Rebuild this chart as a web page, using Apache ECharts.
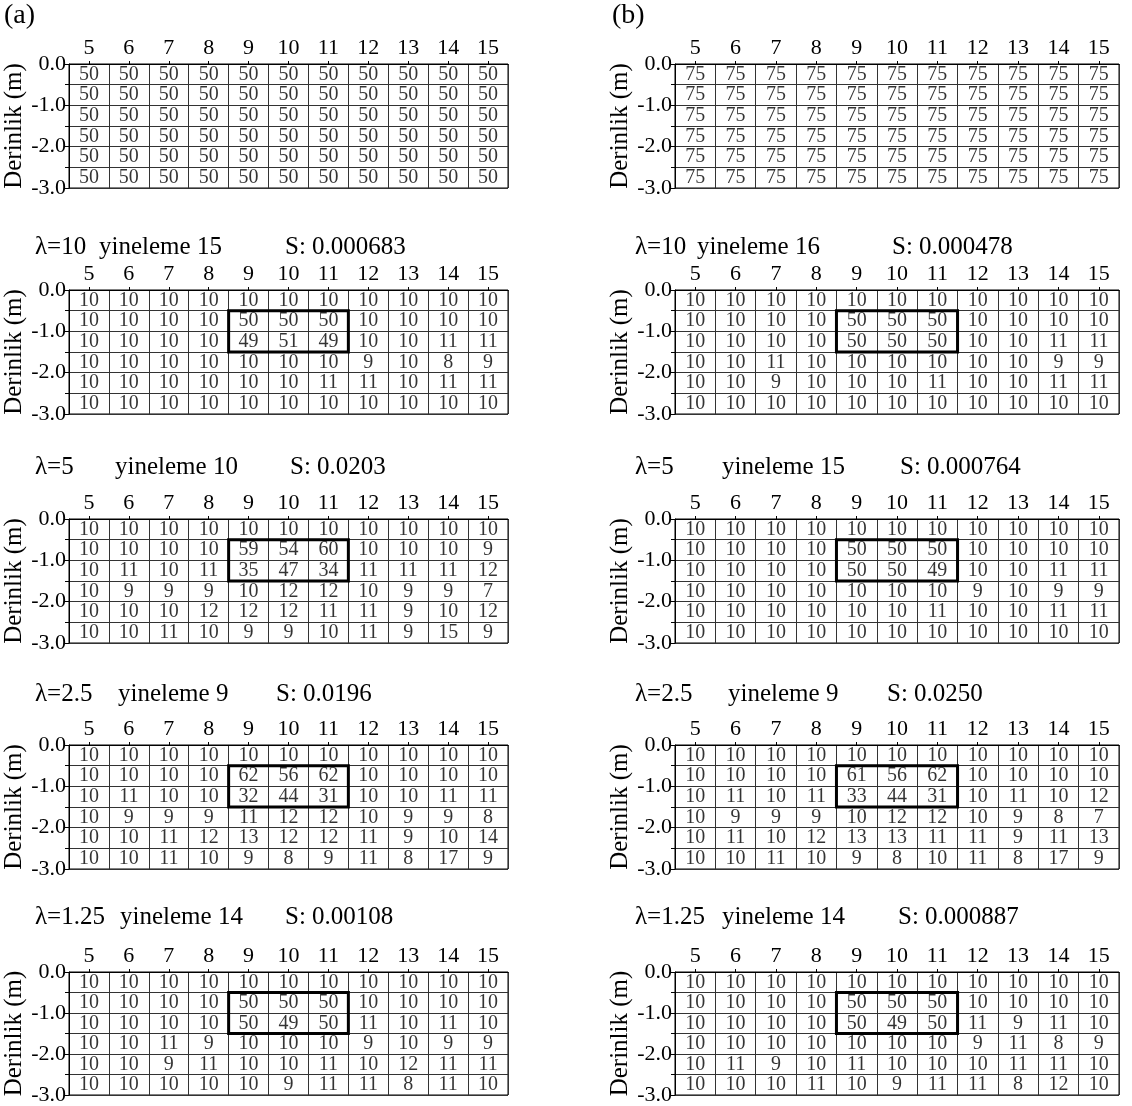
<!DOCTYPE html>
<html>
<head>
<meta charset="utf-8">
<script src="https://cdn.jsdelivr.net/npm/echarts@6/dist/echarts.min.js"></script>
<style>html,body{margin:0;padding:0;background:#fff;}#c{width:1132px;height:1106px;}</style>
</head>
<body>
<div id="c"></div>
<script>
// ---- data ----
const columns = ['5','6','7','8','9','10','11','12','13','14','15'];
const layerDepths = [-0.25, -0.75, -1.25, -1.75, -2.25, -2.75];
const yTickLabels = {'0': '0.0', '-1': '-1.0', '-2': '-2.0', '-3': '-3.0'};

const initialA = [
  [50,50,50,50,50,50,50,50,50,50,50],
  [50,50,50,50,50,50,50,50,50,50,50],
  [50,50,50,50,50,50,50,50,50,50,50],
  [50,50,50,50,50,50,50,50,50,50,50],
  [50,50,50,50,50,50,50,50,50,50,50],
  [50,50,50,50,50,50,50,50,50,50,50]
];
const initialB = [
  [75,75,75,75,75,75,75,75,75,75,75],
  [75,75,75,75,75,75,75,75,75,75,75],
  [75,75,75,75,75,75,75,75,75,75,75],
  [75,75,75,75,75,75,75,75,75,75,75],
  [75,75,75,75,75,75,75,75,75,75,75],
  [75,75,75,75,75,75,75,75,75,75,75]
];
const a_l10 = [
  [10,10,10,10,10,10,10,10,10,10,10],
  [10,10,10,10,50,50,50,10,10,10,10],
  [10,10,10,10,49,51,49,10,10,11,11],
  [10,10,10,10,10,10,10,9,10,8,9],
  [10,10,10,10,10,10,11,11,10,11,11],
  [10,10,10,10,10,10,10,10,10,10,10]
];
const b_l10 = [
  [10,10,10,10,10,10,10,10,10,10,10],
  [10,10,10,10,50,50,50,10,10,10,10],
  [10,10,10,10,50,50,50,10,10,11,11],
  [10,10,11,10,10,10,10,10,10,9,9],
  [10,10,9,10,10,10,11,10,10,11,11],
  [10,10,10,10,10,10,10,10,10,10,10]
];
const a_l5 = [
  [10,10,10,10,10,10,10,10,10,10,10],
  [10,10,10,10,59,54,60,10,10,10,9],
  [10,11,10,11,35,47,34,11,11,11,12],
  [10,9,9,9,10,12,12,10,9,9,7],
  [10,10,10,12,12,12,11,11,9,10,12],
  [10,10,11,10,9,9,10,11,9,15,9]
];
const b_l5 = [
  [10,10,10,10,10,10,10,10,10,10,10],
  [10,10,10,10,50,50,50,10,10,10,10],
  [10,10,10,10,50,50,49,10,10,11,11],
  [10,10,10,10,10,10,10,9,10,9,9],
  [10,10,10,10,10,10,11,10,10,11,11],
  [10,10,10,10,10,10,10,10,10,10,10]
];
const a_l25 = [
  [10,10,10,10,10,10,10,10,10,10,10],
  [10,10,10,10,62,56,62,10,10,10,10],
  [10,11,10,10,32,44,31,10,10,11,11],
  [10,9,9,9,11,12,12,10,9,9,8],
  [10,10,11,12,13,12,12,11,9,10,14],
  [10,10,11,10,9,8,9,11,8,17,9]
];
const b_l25 = [
  [10,10,10,10,10,10,10,10,10,10,10],
  [10,10,10,10,61,56,62,10,10,10,10],
  [10,11,10,11,33,44,31,10,11,10,12],
  [10,9,9,9,10,12,12,10,9,8,7],
  [10,11,10,12,13,13,11,11,9,11,13],
  [10,10,11,10,9,8,10,11,8,17,9]
];
const a_l125 = [
  [10,10,10,10,10,10,10,10,10,10,10],
  [10,10,10,10,50,50,50,10,10,10,10],
  [10,10,10,10,50,49,50,11,10,11,10],
  [10,10,11,9,10,10,10,9,10,9,9],
  [10,10,9,11,10,10,11,10,12,11,11],
  [10,10,10,10,10,9,11,11,8,11,10]
];
const b_l125 = [
  [10,10,10,10,10,10,10,10,10,10,10],
  [10,10,10,10,50,50,50,10,10,10,10],
  [10,10,10,10,50,49,50,11,9,11,10],
  [10,10,10,10,10,10,10,9,11,8,9],
  [10,11,9,10,11,10,10,10,11,11,10],
  [10,10,10,11,10,9,11,11,8,12,10]
];
const anomalyBox = ['9', '11', -0.5, -1.5];

const lambdaLabels = ['λ=10', 'λ=5', 'λ=2.5', 'λ=1.25'];
const iterA = ['yineleme 15', 'yineleme 10', 'yineleme 9', 'yineleme 14'];
const misfitA = ['S: 0.000683', 'S: 0.0203', 'S: 0.0196', 'S: 0.00108'];
const iterB = ['yineleme 16', 'yineleme 15', 'yineleme 9', 'yineleme 14'];
const misfitB = ['S: 0.000478', 'S: 0.000764', 'S: 0.0250', 'S: 0.000887'];

// ---- layout ----
const FONT = '"Liberation Serif", "Times New Roman", serif';
const gridLeft = [69, 675];
const gridWidth = [439, 444];
const gridTop = [64, 290, 519, 745, 972];
const gridHeight = 124;
const titleY = [247, 467, 694, 917];
const titleXA = [[35, 99, 285], [35, 115, 290], [35, 118, 276], [35, 120, 285]];
const titleXB = [[635, 697, 892], [635, 722, 900], [635, 728, 887], [635, 722, 898]];

const panels = [
  {col: 0, row: 0, data: initialA, box: false},
  {col: 1, row: 0, data: initialB, box: false},
  {col: 0, row: 1, data: a_l10, box: true},
  {col: 1, row: 1, data: b_l10, box: true},
  {col: 0, row: 2, data: a_l5, box: true},
  {col: 1, row: 2, data: b_l5, box: true},
  {col: 0, row: 3, data: a_l25, box: true},
  {col: 1, row: 3, data: b_l25, box: true},
  {col: 0, row: 4, data: a_l125, box: true},
  {col: 1, row: 4, data: b_l125, box: true}
];

const grids = [], xAxes = [], yAxes = [], series = [];
panels.forEach((p, i) => {
  grids.push({
    left: gridLeft[p.col], top: gridTop[p.row], width: gridWidth[p.col], height: gridHeight,
    show: true, borderColor: '#000', borderWidth: 1, backgroundColor: 'transparent'
  });
  xAxes.push({
    gridIndex: i, type: 'category', data: columns, position: 'top', boundaryGap: true,
    axisLine: {show: true, lineStyle: {color: '#000', width: 1}},
    axisTick: {show: true, alignWithLabel: true, interval: 0, length: 3, lineStyle: {color: '#000'}},
    axisLabel: {show: true, interval: 0, margin: 5, fontSize: 22, color: '#000', fontFamily: FONT},
    splitLine: {show: true, interval: 0, lineStyle: {color: '#333', width: 1}}
  });
  yAxes.push({
    gridIndex: i, type: 'value', min: -3, max: 0, interval: 0.5,
    name: 'Derinlik (m)', nameLocation: 'middle', nameRotate: 90, nameGap: 30,
    nameTextStyle: {fontSize: 25, color: '#000', fontFamily: FONT},
    axisLine: {show: true, lineStyle: {color: '#000', width: 1}},
    axisTick: {show: true, length: 4, lineStyle: {color: '#000'}},
    axisLabel: {
      show: true, margin: 3, fontSize: 22, color: '#000', fontFamily: FONT,
      formatter: v => (yTickLabels[String(Math.round(v * 10) / 10)] || '')
    },
    splitLine: {show: true, lineStyle: {color: '#333', width: 1}}
  });
  const pts = [];
  p.data.forEach((rowVals, r) => {
    rowVals.forEach((v, c) => pts.push([columns[c], layerDepths[r], v]));
  });
  series.push({
    type: 'scatter', xAxisIndex: i, yAxisIndex: i, data: pts,
    symbolSize: 1, itemStyle: {color: 'rgba(0,0,0,0)'}, silent: true,
    label: {show: true, position: 'inside', offset: [0, 0], formatter: q => String(q.value[2]),
      fontSize: 20, color: '#000', fontFamily: FONT}
  });
  if (p.box) {
    series.push({
      type: 'custom', xAxisIndex: i, yAxisIndex: i, silent: true,
      data: [anomalyBox], encode: {x: [0, 1], y: [2, 3]},
      renderItem: (params, api) => {
        const p1 = api.coord([api.value(0), api.value(2)]);
        const p2 = api.coord([api.value(1), api.value(3)]);
        const bw = api.size([1, 0])[0];
        return {
          type: 'rect',
          shape: {x: p1[0] - bw / 2, y: p1[1], width: p2[0] - p1[0] + bw, height: p2[1] - p1[1]},
          style: {fill: 'none', stroke: '#000', lineWidth: 3}
        };
      }
    });
  }
});

const graphics = [
  {type: 'text', left: 4, top: 2, style: {text: '(a)', font: '28px ' + FONT, fill: '#000'}},
  {type: 'text', left: 612, top: 2, style: {text: '(b)', font: '28px ' + FONT, fill: '#000'}}
];
for (let k = 0; k < 4; k++) {
  [[lambdaLabels[k], titleXA[k][0]], [iterA[k], titleXA[k][1]], [misfitA[k], titleXA[k][2]],
   [lambdaLabels[k], titleXB[k][0]], [iterB[k], titleXB[k][1]], [misfitB[k], titleXB[k][2]]]
  .forEach(([t, x]) => graphics.push({
    type: 'text', x: x, y: titleY[k],
    style: {text: t, font: '25px ' + FONT, fill: '#000', verticalAlign: 'middle', align: 'left'}
  }));
}

const chart = echarts.init(document.getElementById('c'), null, {renderer: 'canvas'});
chart.setOption({
  backgroundColor: '#fff',
  animation: false,
  grid: grids, xAxis: xAxes, yAxis: yAxes, series: series,
  graphic: graphics
});
</script>
</body>
</html>
